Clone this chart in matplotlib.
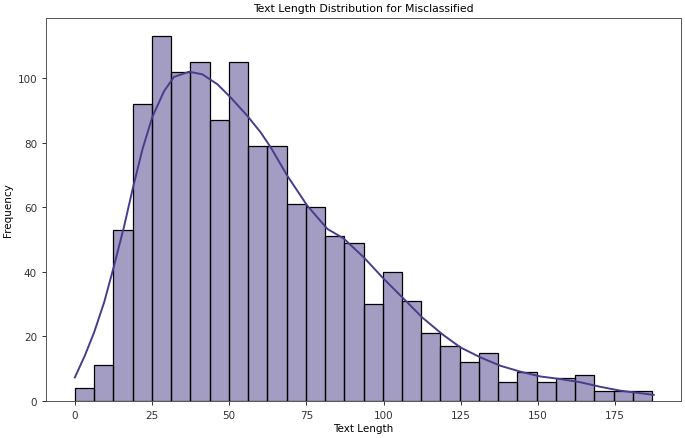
import numpy as np
import matplotlib
matplotlib.use('Agg')
import matplotlib.pyplot as plt

# histogram counts, 30 bins between 0 and 187
bin_lo = 0
bin_hi = 187
counts = [4, 11, 53, 92, 113, 102, 105, 87, 105, 79,
          79, 61, 60, 51, 49, 30, 40, 31, 21, 17,
          12, 15, 6, 9, 6, 7, 8, 3, 3, 3]

# kde curve (already scaled to counts)
kde_x = [0, 3.2, 6.25, 9.5, 12.7, 16.0, 18.7, 21.9, 25.1, 28.9, 32.1, 37.0,
         41.3, 46.2, 50.5, 55.9, 60.2, 63.5, 68.8, 75.3, 81.8, 87.0, 93.6,
         100.1, 106.6, 112.5, 119, 124.9, 131.4, 137.9, 144.3, 150.8, 157.3,
         163.8, 170.2, 176.7, 187.5]
kde_y = [7.3, 14, 21.3, 30.6, 41.9, 54.3, 65.6, 78, 88, 96, 100.4, 102,
         101.2, 98.1, 94, 88.3, 83.2, 78.5, 69.8, 60.5, 53.3, 50.4, 44.5,
         37.8, 31.6, 25.9, 20.7, 16.6, 13.5, 10.9, 9.1, 7.6, 6.8,
         5.8, 4.4, 3.2, 1.9]

color = '#483D8B'

fig = plt.figure(figsize=(6.85, 4.39), dpi=100)
ax = fig.add_axes([46 / 685, 37 / 439, 635 / 685, 383 / 439])

edges = np.linspace(bin_lo, bin_hi, len(counts) + 1)
ax.bar(edges[:-1], counts, width=np.diff(edges), align='edge',
       color=color, alpha=0.5, edgecolor='none')
ax.bar(edges[:-1], counts, width=np.diff(edges), align='edge',
       fill=False, edgecolor='black', linewidth=0.9)
ax.plot(kde_x, kde_y, color=color, linewidth=1.4)

ax.set_xlim(bin_lo - 0.05 * (bin_hi - bin_lo), bin_hi + 0.05 * (bin_hi - bin_lo))
ax.set_ylim(0, max(counts) * 1.05)
ax.set_xticks([0, 25, 50, 75, 100, 125, 150, 175])
ax.set_yticks([0, 20, 40, 60, 80, 100])
ax.tick_params(labelsize=7.5, length=3, width=0.7, colors='#333333')
for s in ax.spines.values():
    s.set_linewidth(0.7)
    s.set_color('#555555')

ax.set_title('Text Length Distribution for Misclassified', fontsize=7.8, pad=5)
ax.set_xlabel('Text Length', fontsize=7.5, labelpad=2)
ax.set_ylabel('Frequency', fontsize=7.5)
ax.yaxis.set_label_coords(-0.052, 0.5)

plt.savefig('out.png', dpi=100)
plt.close()
